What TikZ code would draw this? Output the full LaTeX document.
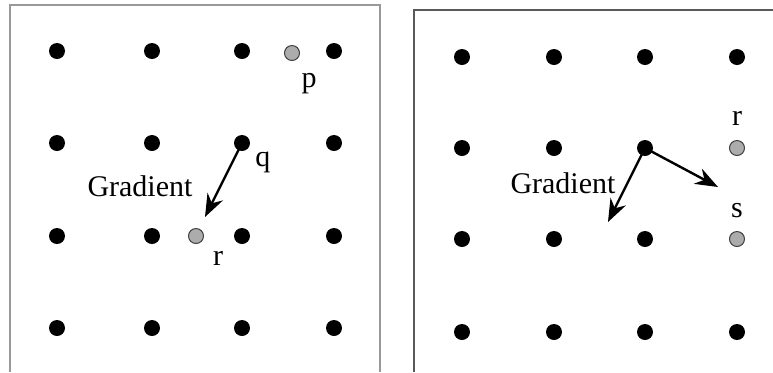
\documentclass[tikz,border=0pt]{standalone}
\usepackage{fontspec}
\setmainfont{Liberation Serif}
\usetikzlibrary{arrows.meta,positioning}

\begin{document}
\begin{tikzpicture}[font=\fontsize{15}{18}\selectfont,>={Stealth[length=4mm,width=3mm]},x=0.5pt,y=-0.5pt,
  pt/.style={circle,fill=black,inner sep=0pt,minimum size=8pt},
  gpt/.style={circle,fill=gray!65,draw=gray!50!black,line width=0.5pt,inner sep=0pt,minimum size=7.5pt},
  lbl/.style={inner sep=0pt},
  frm/.style={line width=0.8pt}]
  \useasboundingbox (0,0) rectangle (773,372);
  % cadres
  \draw[frm,gray!80] (10,372) -- (10,5) -- (380,5) -- (380,372);
  \draw[frm,black!65] (414,372) -- (414,10) -- (773,10);
  % grille gauche
  \foreach \i/\xx in {1/57,2/152,3/242,4/334}{
    \foreach \j/\yy in {1/51,2/143,3/236,4/328}{
      \node[pt] (l-\i-\j) at (\xx,\yy) {};
    }
  }
  \node[gpt] (lp) at (292,53) {};
  \node[gpt] (lr) at (196,236) {};
  \node[lbl] at (309,84) {p};
  \node[lbl] at (263,162) {q};
  \node[lbl] at (218,258) {r};
  \node[lbl] (lg) at (140,186) {Gradient};
  \coordinate (la) at (205,217);
  \draw[->,line width=1.2pt] (l-3-2.center) -- (la);
  % grille droite
  \foreach \i/\xx in {1/462,2/554,3/645}{
    \foreach \j/\yy in {1/57,2/148,3/239,4/332}{
      \node[pt] (r-\i-\j) at (\xx,\yy) {};
    }
  }
  \node[pt] (r-4-1) at (737,57) {};
  \node[pt] (r-4-4) at (737,332) {};
  \node[gpt] (rr) at (737,148) {};
  \node[gpt] (rs) at (737,239) {};
  \node[lbl] at (737,118) {r};
  \node[lbl] at (737,211) {s};
  \node[lbl] (rg) at (563,183) {Gradient};
  \coordinate (ra) at (608,222);
  \coordinate (rb) at (718,187);
  \draw[->,line width=1.2pt] (r-3-2.center) -- (ra);
  \draw[->,line width=1.2pt] (r-3-2.center) -- (rb);
\end{tikzpicture}
\end{document}
